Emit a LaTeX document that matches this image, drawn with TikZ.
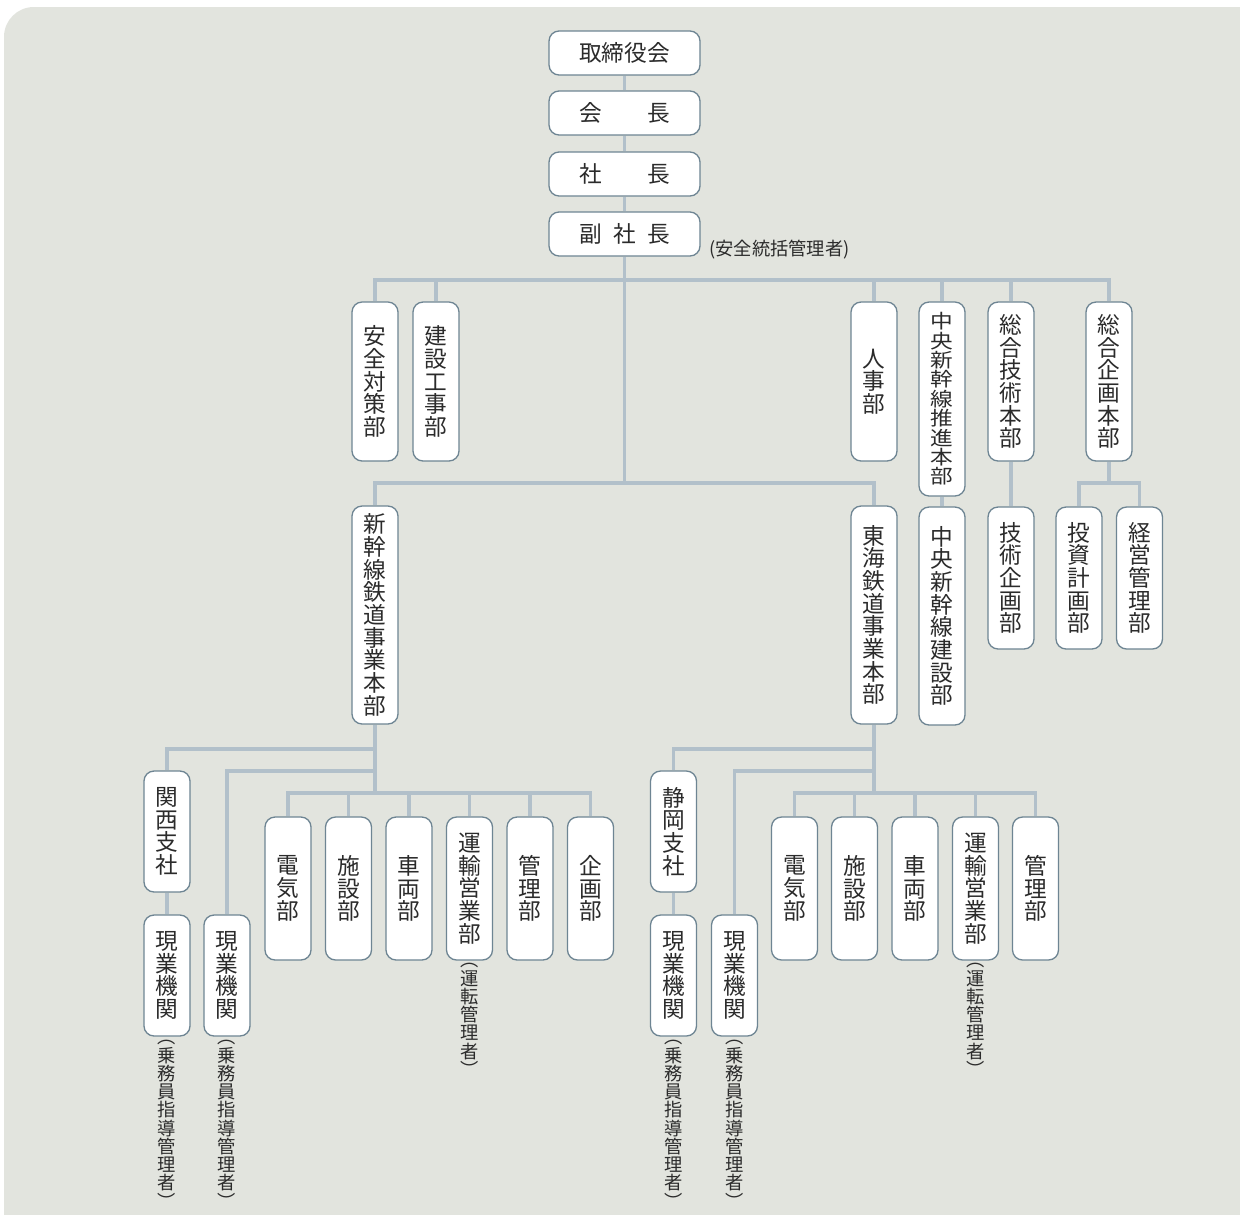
\documentclass[tikz,border=0pt]{standalone}
\usepackage{fontspec}
\newfontfamily\jp{Noto Sans CJK JP}
\definecolor{panel}{HTML}{E2E4DE}
\definecolor{linkcol}{HTML}{B2C0CA}
\definecolor{edgecol}{HTML}{6E8593}
\definecolor{ink}{HTML}{2B2B2B}
\pgfdeclarelayer{back}
\pgfdeclarelayer{lines}
\pgfsetlayers{back,lines,main}
\tikzset{
  box/.style={draw=edgecol, line width=0.75pt, fill=white, rounded corners=5.7pt,
    inner sep=0pt, text=ink, align=center, font=\jp\fontsize{12.9}{12.9}\selectfont},
  hbox/.style={box, minimum width=3.02cm, minimum height=0.88cm},
  vbox/.style={box, minimum width=0.92cm, minimum height=#1},
  note/.style={inner sep=0pt, text=ink, align=center, font=\jp\fontsize{10.4}{10.4}\selectfont},
  link/.style={draw=linkcol, line width=2.2pt},
}

\begin{document}
\begin{tikzpicture}[x=0.02cm, y=-0.02cm]
    \useasboundingbox (0,0) rectangle (1240,1214);
    \begin{pgfonlayer}{back}
    \fill [white] (0,0) rectangle (1240,1214);
    \fill [panel, rounded corners=17pt] (4,7) rectangle (1300,1280);
    \end{pgfonlayer}
    % top of the chain
    \node [hbox] (board) at (624.5,53) {取締役会};
    \node [hbox] (chair) at (624.5,113) {会\hspace{2em}長};
    \node [hbox] (pres) at (624.5,174) {社\hspace{2em}長};
    \node [hbox] (vice) at (624.5,234) {副\hspace{.5em}社\hspace{.5em}長};
    \node [note, anchor=west] (vicenote) at (709,250) {(安全統括管理者)};
    % first row
    \node [vbox=3.18cm] (safety) at (375,381.5) {安\\全\\対\\策\\部};
    \node [vbox=3.18cm] (works) at (436,381.5) {建\\設\\工\\事\\部};
    \node [vbox=3.18cm] (hr) at (874,381.5) {人\\事\\部};
    \node [vbox=3.88cm] (chuo) at (942,399) {\scalebox{1}[0.855]{\parbox{1em}{\centering 中\\央\\新\\幹\\線\\推\\進\\本\\部}}};
    \node [vbox=3.18cm] (tech) at (1011,381.5) {総\\合\\技\\術\\本\\部};
    \node [vbox=3.18cm] (plan) at (1109,381.5) {総\\合\\企\\画\\本\\部};
    % second row
    \node [vbox=4.36cm] (shinkansen) at (375,615) {新\\幹\\線\\鉄\\道\\事\\業\\本\\部};
    \node [vbox=4.36cm] (tokai) at (874,615) {東\\海\\鉄\\道\\事\\業\\本\\部};
    \node [vbox=4.36cm] (chuobuild) at (942,616) {中\\央\\新\\幹\\線\\建\\設\\部};
    \node [vbox=2.84cm] (techplan) at (1011,578) {技\\術\\企\\画\\部};
    \node [vbox=2.84cm] (invest) at (1079,578) {投\\資\\計\\画\\部};
    \node [vbox=2.84cm] (mgmt) at (1139.5,578) {経\\営\\管\\理\\部};
    % shinkansen side
    \node [vbox=2.42cm] (kansai) at (167,831.5) {関\\西\\支\\社};
    \node [vbox=2.42cm] (siteA) at (167,975.5) {現\\業\\機\\関};
    \node [vbox=2.42cm] (siteB) at (227,975.5) {現\\業\\機\\関};
    \node [vbox=2.86cm] (elecA) at (288,888.5) {電\\気\\部};
    \node [vbox=2.86cm] (trackA) at (348.5,888.5) {施\\設\\部};
    \node [vbox=2.86cm] (carA) at (409,888.5) {車\\両\\部};
    \node [vbox=2.86cm] (opsA) at (469.5,888.5) {運\\輸\\営\\業\\部};
    \node [vbox=2.86cm] (adminA) at (530,888.5) {管\\理\\部};
    \node [vbox=2.86cm] (planA) at (590.5,888.5) {企\\画\\部};
    \node [note, anchor=north] (crewA) at (167,1040) {︵\\乗\\務\\員\\指\\導\\管\\理\\者\\︶};
    \node [note, anchor=north] (crewB) at (227,1040) {︵\\乗\\務\\員\\指\\導\\管\\理\\者\\︶};
    \node [note, anchor=north] (driveA) at (469.5,963) {︵\\運\\転\\管\\理\\者\\︶};
    % tokai side
    \node [vbox=2.42cm] (shizuoka) at (673.5,831.5) {静\\岡\\支\\社};
    \node [vbox=2.42cm] (siteC) at (673.5,975.5) {現\\業\\機\\関};
    \node [vbox=2.42cm] (siteD) at (734.5,975.5) {現\\業\\機\\関};
    \node [vbox=2.86cm] (elecB) at (794.5,888.5) {電\\気\\部};
    \node [vbox=2.86cm] (trackB) at (854.5,888.5) {施\\設\\部};
    \node [vbox=2.86cm] (carB) at (915,888.5) {車\\両\\部};
    \node [vbox=2.86cm] (opsB) at (975.5,888.5) {運\\輸\\営\\業\\部};
    \node [vbox=2.86cm] (adminB) at (1035.5,888.5) {管\\理\\部};
    \node [note, anchor=north] (crewC) at (673.5,1040) {︵\\乗\\務\\員\\指\\導\\管\\理\\者\\︶};
    \node [note, anchor=north] (crewD) at (734.5,1040) {︵\\乗\\務\\員\\指\\導\\管\\理\\者\\︶};
    \node [note, anchor=north] (driveB) at (975.5,963) {︵\\運\\転\\管\\理\\者\\︶};
    % branch points
    \coordinate (hub) at (624.5,280);
    \coordinate (split) at (624.5,483);
    \coordinate (planbar) at (1109,483);
    \coordinate (westA) at (375,749);
    \coordinate (westB) at (375,771);
    \coordinate (westC) at (375,793);
    \coordinate (eastA) at (874,749);
    \coordinate (eastB) at (874,771);
    \coordinate (eastC) at (874,793);
    \begin{pgfonlayer}{lines}
    \draw [link] (board) -- (chair);
    \draw [link] (chair) -- (pres);
    \draw [link] (pres) -- (vice);
    \draw [link] (vice) -- (split);
    \draw [link] (hub) -| (safety.north);
    \draw [link] (hub) -| (works.north);
    \draw [link] (hub) -| (hr.north);
    \draw [link] (hub) -| (chuo.north);
    \draw [link] (hub) -| (tech.north);
    \draw [link] (hub) -| (plan.north);
    \draw [link] (split) -| (shinkansen.north);
    \draw [link] (split) -| (tokai.north);
    \draw [link] (chuo) -- (chuobuild);
    \draw [link] (tech) -- (techplan);
    \draw [link] (plan) -- (planbar);
    \draw [link] (planbar) -| (invest.north);
    \draw [link] (planbar) -| (mgmt.north);
    \draw [link] (shinkansen) -- (westC);
    \draw [link] (westA) -| (kansai.north);
    \draw [link] (westB) -| (siteB.north);
    \draw [link] (kansai) -- (siteA);
    \draw [link] (westC) -| (elecA.north);
    \draw [link] (westC) -| (trackA.north);
    \draw [link] (westC) -| (carA.north);
    \draw [link] (westC) -| (opsA.north);
    \draw [link] (westC) -| (adminA.north);
    \draw [link] (westC) -| (planA.north);
    \draw [link] (tokai) -- (eastC);
    \draw [link] (eastA) -| (shizuoka.north);
    \draw [link] (eastB) -| (siteD.north);
    \draw [link] (shizuoka) -- (siteC);
    \draw [link] (eastC) -| (elecB.north);
    \draw [link] (eastC) -| (trackB.north);
    \draw [link] (eastC) -| (carB.north);
    \draw [link] (eastC) -| (opsB.north);
    \draw [link] (eastC) -| (adminB.north);
    \end{pgfonlayer}
\end{tikzpicture}
\end{document}
